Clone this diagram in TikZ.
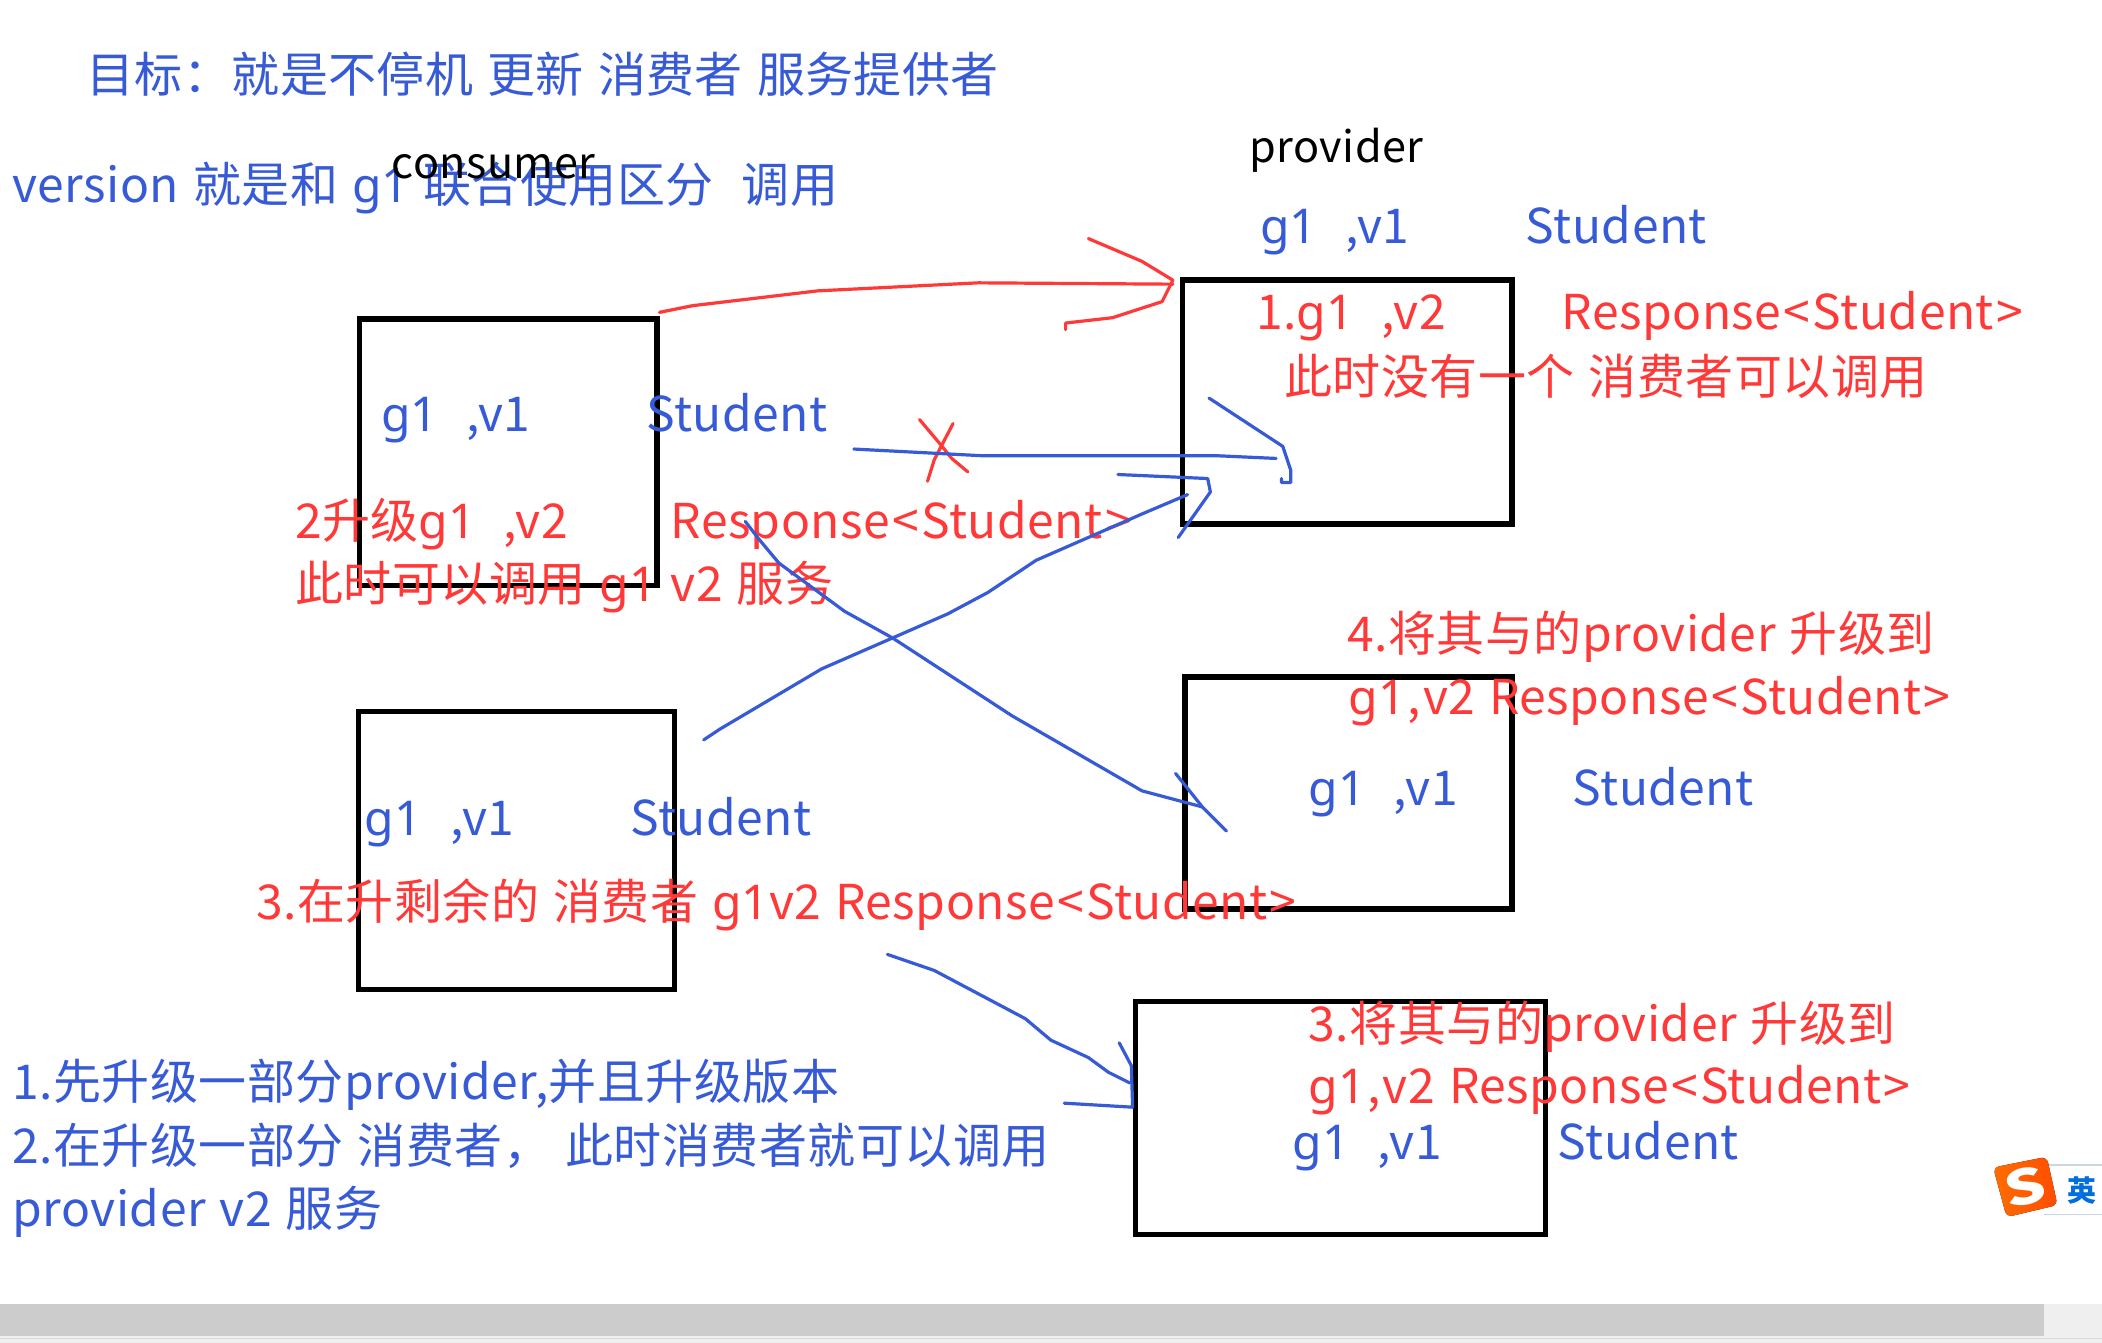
\documentclass[tikz,border=0pt]{standalone}
\usepackage{fontspec}
\setmainfont[LetterSpace=1.0,WordSpace=1.25]{Noto Sans CJK SC}
\newfontfamily\nsf{Noto Sans}
\definecolor{bl}{RGB}{55,90,214}
\definecolor{rd}{RGB}{255,56,56}
\newcommand\Rsp{Response\kern1.2pt<\kern1.2pt Student\kern1.2pt>\kern1.2pt}
\newcommand\gi{{\nsf g1}}
\newcommand\cmv{\kern1pt,\kern1pt v}
\tikzset{
 box/.style={draw=black,line width=2.7pt,inner sep=0pt,fill=none},
 bt/.style={anchor=base west,inner sep=0pt,text=bl,font=\fontsize{24}{24}\selectfont},
 rt/.style={anchor=base west,inner sep=0pt,text=rd,font=\fontsize{24}{24}\selectfont},
 kt/.style={anchor=base west,inner sep=0pt,text=black,font=\fontsize{21.6}{22}\selectfont},
 bs/.style={draw=bl,line width=1.6pt,line join=round,line cap=round},
 rs/.style={draw=rd,line width=1.6pt,line join=round,line cap=round},
}
\begin{document}
\begin{tikzpicture}[x=0.67028pt,y=-0.67028pt]
\useasboundingbox (0,0) rectangle (1568.2,1001.9);
% bars
\fill[fill={rgb,255:red,239;green,239;blue,239}] (0,973) rectangle (1568.2,1001.9);
\fill[fill={rgb,255:red,204;green,204;blue,204}] (0,973) rectangle (1525,997);
\fill[fill={rgb,255:red,218;green,218;blue,218}] (0,998) rectangle (1568.2,999);
% boxes
\node[box,minimum width=222*0.67028pt,minimum height=199*0.67028pt] (boxA) at (379,337.5) {};
\node[box,minimum width=246*0.67028pt,minimum height=182*0.67028pt] (boxB) at (1005,300) {};
\node[box,minimum width=236*0.67028pt,minimum height=207*0.67028pt] (boxC) at (385.3,634.5) {};
\node[box,minimum width=244*0.67028pt,minimum height=173*0.67028pt] (boxD) at (1006,591.5) {};
\node[box,minimum width=306*0.67028pt,minimum height=174*0.67028pt] (boxE) at (1000,834) {};
% text
\node[bt] (t1) at (64,69) {目标：就是不停机 更新 消费者 服务提供者};
\node[bt] (t2) at (9,151) {version 就是和 \gi{} 联合使用区分 \ 调用};
\node[kt] (t3) at (292,133) {consumer};
\node[kt] (t4) at (932,121) {provider};
\node[bt] (t5) at (940,182) {\gi{} \ ,v1};
\node[bt] (t6) at (1138,182) {Student};
\node[rt] (t7) at (937,246) {1.\gi{} \ ,v2};
\node[rt] (t8) at (1165,246) {\Rsp};
\node[rt] (t9) at (958,294) {此时没有一个 消费者可以调用};
\node[bt] (t10) at (284,322) {\gi{} \ ,v1};
\node[bt] (t11) at (482,322) {Student};
\node[rt] (t12) at (220,402) {2升级\gi{} \ ,v2};
\node[rt] (t13) at (500,402) {\Rsp};
\node[rt] (t14) at (220,449) {此时可以调用 \gi{} v2 服务};
\node[rt] (t15) at (1005,486) {4.将其与的provider 升级到};
\node[rt] (t16) at (1006,533) {\gi\cmv2 \Rsp};
\node[bt] (t17) at (976,601) {\gi{} \ ,v1};
\node[bt] (t18) at (1173,601) {Student};
\node[bt] (t19) at (272,623) {\gi{} \ ,v1};
\node[bt] (t20) at (470,623) {Student};
\node[rt] (t21) at (191,686) {3.在升剩余的 消费者 \gi{}v2 \Rsp};
\node[rt] (t22) at (976,777) {3.将其与的provider 升级到};
\node[rt] (t23) at (976,823) {\gi\cmv2 \Rsp};
\node[bt] (t24) at (964,865) {\gi{} \ ,v1};
\node[bt] (t25) at (1162,865) {Student};
\node[bt] (t26) at (9,820) {1.先升级一部分provider,并且升级版本};
\node[bt] (t27) at (9,868) {2.在升级一部分 消费者， 此时消费者就可以调用};
\node[bt] (t28) at (9,915) {provider v2 服务};
% stroke ends
\coordinate (rs1) at (492,233);
\coordinate (re1) at (875,212);
\coordinate (bs1) at (637,335);
\coordinate (be1) at (952,342);
\coordinate (bs2) at (525,552);
\coordinate (be2) at (886,369);
\coordinate (bs3) at (556,389);
\coordinate (be3) at (897,602);
\coordinate (bs4) at (662,712);
\coordinate (be4) at (843,808);
% red arrow
\draw[rs] (rs1) -- (517,228) -- (610,217) -- (730,211) -- (re1);
\draw[rs] (812,178) -- (852,195) -- (875,209) -- (867,225) -- (830,237) -- (795,241) -- (795,246);
\draw[rs] (686,313) -- (702,332) -- (710,342) -- (722,352);
\draw[rs] (711,316) -- (697,343) -- (692,359);
% blue strokes
\draw[bs] (bs1) -- (733,340) -- (908,340) -- (be1);
\draw[bs] (902,297) -- (957,333) -- (963,351) -- (963,360) -- (956,360) -- (956,357);
\draw[bs] (bs2) -- (537,544) -- (613,499) -- (707,458) -- (737,442) -- (773,418) -- (853,383) -- (be2);
\draw[bs] (834,354) -- (901,357) -- (903,367) -- (879,401);
\draw[bs] (bs3) -- (566,402) -- (581,420) -- (630,456) -- (666,476) -- (755,534) -- (852,590) -- (be3);
\draw[bs] (877,577) -- (897,602) -- (915,620);
\draw[bs] (bs4) -- (697,724) -- (765,760) -- (784,776) -- (812,789) -- (827,800) -- (be4);
\draw[bs] (835,778) -- (844,795) -- (845,826) -- (794,823);
% IME icon
\draw[draw={rgb,255:red,200;green,215;blue,230},line width=.7pt] (1525,869) -- (1568.2,869) (1525,906) -- (1568.2,906);
\fill[rounded corners=3pt,left color=orange!85!red,right color=orange!60!red] (1487,871) -- (1527,863) -- (1535,899) -- (1497,908) -- cycle;
\node[inner sep=0pt,text=white,font=\bfseries\fontsize{24}{24}\selectfont,rotate=12,xscale=1.35] (ime) at (1511,885) {S};
\node[inner sep=0pt,anchor=west,text={rgb,255:red,0;green,110;blue,220},font=\bfseries\fontsize{14.5}{15}\selectfont] (ying) at (1542,888) {英};
\end{tikzpicture}
\end{document}
